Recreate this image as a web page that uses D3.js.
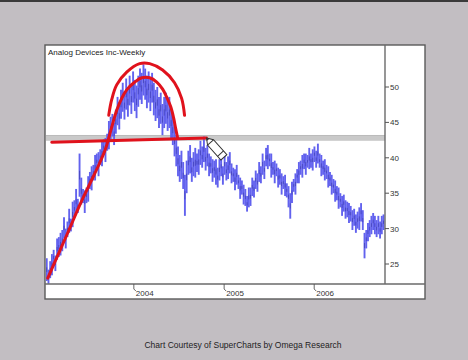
<!DOCTYPE html>
<html><head><meta charset="utf-8">
<script src="https://cdn.jsdelivr.net/npm/d3@7"></script>
<style>
html,body{margin:0;padding:0;background:#c2bec2;overflow:hidden}
svg{display:block}
text{font-family:"Liberation Sans",Arial,sans-serif}
</style></head>
<body>
<script>
const title = "Analog Devices Inc-Weekly";
const caption = "Chart Courtesy of SuperCharts by Omega Research";
const startDate = new Date(2003, 0, 10);
const endDate = new Date(2006, 9, 15);
const yTicks = [25, 30, 35, 40, 45, 50];
const xTicks = [new Date(2004,0,1), new Date(2005,0,1), new Date(2006,0,1)];
const xTickLabels = ["2004", "2005", "2006"];

const lows = [22.6,22.2,23.0,23.4,24.8,24.0,25.6,26.0,26.2,26.8,28.6,27.2,28.8,29.4,29.6,30.2,31.6,32.0,32.2,34.5,
33.4,33.6,32.2,33.6,33.8,35.6,35.4,36.8,36.8,38.4,37.4,39.0,38.8,40.4,39.4,41.0,41.2,42.4,43.0,41.8,
43.4,44.6,44.0,45.5,46.5,45.4,46.8,45.8,47.4,46.2,47.8,46.6,45.6,47.2,48.2,47.6,48.8,48.2,47.0,47.8,
46.6,47.8,46.0,45.2,45.6,44.2,44.8,43.2,44.2,44.8,43.8,44.2,42.8,41.8,40.2,38.8,37.4,36.6,37.0,35.6,
31.8,35.0,37.6,37.8,36.6,37.4,37.2,38.0,37.6,39.0,38.6,39.4,38.2,38.8,37.4,37.8,36.6,37.2,36.2,35.8,
36.8,37.4,36.2,37.6,36.8,37.0,37.8,36.4,36.6,35.4,36.2,35.6,34.2,34.8,33.4,33.2,32.4,33.0,33.2,34.6,
34.4,35.6,35.2,36.6,36.4,37.6,37.0,38.8,38.4,38.8,37.2,37.6,36.4,37.4,35.8,36.2,34.8,35.6,34.6,34.4,
33.0,31.4,33.6,35.2,34.8,36.4,36.4,37.6,37.2,38.4,37.6,38.6,38.4,38.6,38.2,39.4,38.6,39.2,38.6,37.4,
37.6,36.8,37.0,35.8,36.0,34.8,35.0,33.8,34.0,32.8,33.0,31.8,32.4,31.4,31.6,30.8,31.0,29.8,30.4,29.4,
30.0,29.8,31.0,29.8,25.8,27.2,28.2,28.8,29.2,29.8,29.2,28.8,29.2,28.6,29.2,29.8];
const highs = [25.8,24.2,25.4,26.4,27.0,26.2,28.6,28.8,29.4,29.8,31.6,30.0,31.0,32.8,31.4,33.8,34.0,35.6,34.2,40.6,
37.2,35.6,35.4,35.8,37.4,38.0,38.8,39.0,40.4,40.6,40.8,41.2,42.4,42.6,42.8,43.4,45.2,45.8,46.2,45.0,
46.8,48.6,47.8,49.6,50.6,49.4,51.2,50.0,51.6,50.4,52.2,51.0,50.2,51.6,52.6,52.0,53.2,52.6,51.6,52.2,
51.2,52.0,50.6,49.6,50.0,48.6,49.2,47.6,48.6,49.2,48.2,48.6,47.0,46.0,44.6,43.2,41.6,40.4,41.0,39.4,
37.6,39.6,41.0,41.8,40.0,40.8,41.4,40.6,41.2,42.4,41.6,43.0,41.4,41.8,40.6,40.2,39.8,39.6,39.8,38.6,
39.8,40.2,38.8,40.6,39.4,40.2,40.8,39.2,38.6,38.4,39.0,37.6,37.2,36.8,36.2,35.6,34.6,35.8,35.8,37.2,
36.8,38.2,37.8,39.4,38.8,40.6,39.6,41.4,41.8,40.6,40.6,39.4,39.6,39.2,38.6,38.4,37.8,37.4,37.6,36.4,
36.0,35.0,36.6,37.0,37.8,38.4,39.4,39.6,40.4,40.6,40.6,40.4,41.4,40.6,41.2,41.6,41.0,42.0,40.6,40.4,
39.6,39.8,39.0,38.8,38.0,37.6,37.0,36.8,36.0,35.8,35.0,34.6,34.8,34.0,33.8,33.6,33.2,32.6,32.8,32.0,
32.4,33.0,33.6,32.6,29.4,29.8,30.8,31.2,31.8,32.2,31.8,31.2,31.8,31.0,31.8,32.0];

// hand-drawn annotations, in (week index, price) terms
const trendArcWeeks = [0.6,7.6,13.4,19.1,24.9,30.7,34.2,37.6,40.5,43.4,46.3,51.0,55.0,59.6,63.7,67.1,69.4,71.8,73.5,74.6,75.8];
const trendArcPrices = [23.0,26.9,30.1,33.3,36.3,39.3,41.4,44.3,46.7,48.4,49.6,50.7,51.3,51.3,50.7,49.7,48.6,47.2,45.6,44.2,42.8];
const outerArcWeeks = [35.9,37.6,40.5,46.3,53.8,59.6,67.1,74.0,78.1,79.8];
const outerArcPrices = [46.0,48.2,50.3,52.1,53.3,53.3,52.4,50.6,48.4,46.0];
const levelWeeks = [2.9, 92.5];
const levelPrices = [42.2, 42.8];
const bandPrices = [43.15, 42.4];

const W = 468, H = 360;
const svg = d3.select("body").append("svg").attr("width", W).attr("height", H);

svg.append("rect").attr("x",0).attr("y",0).attr("width",W).attr("height",2).attr("fill","#3a3a3a");

const panel = {l:45, t:45, r:425, b:299};
const plot = {l:46, t:46, r:385, b:284};
svg.append("rect").attr("x",panel.l).attr("y",panel.t).attr("width",panel.r-panel.l).attr("height",panel.b-panel.t)
  .attr("fill","#ffffff").attr("stroke","#5a5a5a").attr("stroke-width",1.4);

const x = d3.scaleTime().domain([startDate, endDate]).range([plot.l, plot.r]);
const y = d3.scaleLinear().domain([25, 50]).range([264, 87]);
const xw = i => x(d3.timeHour.offset(startDate, Math.round(i*7*24) + 72));

const defs = svg.append("defs");
defs.append("clipPath").attr("id","clip").append("rect")
  .attr("x",plot.l).attr("y",plot.t).attr("width",plot.r-plot.l).attr("height",plot.b-plot.t);
const g = svg.append("g").attr("clip-path","url(#clip)");

// gray band
g.append("rect").attr("x",plot.l).attr("width",plot.r-plot.l)
  .attr("y",y(bandPrices[0])).attr("height",y(bandPrices[1])-y(bandPrices[0]))
  .attr("fill","#c9c9c9");
g.append("line").attr("x1",plot.l).attr("x2",plot.r).attr("y1",y(bandPrices[0])).attr("y2",y(bandPrices[0]))
  .attr("stroke","#b0b0b0").attr("stroke-width",0.8);

// bars
const bars = d3.range(lows.length);
g.selectAll("line.bar").data(bars).join("line").attr("class","bar")
  .attr("x1", i => xw(i)).attr("x2", i => xw(i))
  .attr("y1", i => y(lows[i])).attr("y2", i => y(highs[i]))
  .attr("stroke","#6262ee").attr("stroke-width",1.9);
g.selectAll("line.mid").data(bars).join("line").attr("class","mid")
  .attr("x1", i => xw(i)).attr("x2", i => xw(i))
  .attr("y1", i => y((lows[i]*0.6+highs[i]*0.4))).attr("y2", i => y((lows[i]*0.4+highs[i]*0.6)))
  .attr("stroke","#3a3aa8").attr("stroke-width",1.0).attr("opacity",0.6);

// red annotations
const red = "#e0121c";
const curve = d3.line().x(d => xw(d[0])).y(d => y(d[1])).curve(d3.curveCatmullRom);
g.append("path").datum(d3.zip(trendArcWeeks, trendArcPrices)).attr("d", curve)
  .attr("fill","none").attr("stroke",red).attr("stroke-width",3).attr("stroke-linecap","round");
g.append("path").datum(d3.zip(outerArcWeeks, outerArcPrices)).attr("d", curve)
  .attr("fill","none").attr("stroke",red).attr("stroke-width",3).attr("stroke-linecap","round");
g.append("path").datum(d3.zip(levelWeeks, levelPrices)).attr("d", d3.line().x(d => xw(d[0])).y(d => y(d[1])))
  .attr("fill","none").attr("stroke",red).attr("stroke-width",3).attr("stroke-linecap","round");

// pencil cursor at end of level line
const cx = xw(levelWeeks[1]), cy = y(levelPrices[1]);
const pen = svg.append("g").attr("transform",`translate(${cx},${cy}) rotate(48)`);
pen.append("path").attr("d","M0,0 L6,-4 L26,-4 L26,4 L6,4 Z")
  .attr("fill","#ffffff").attr("stroke","#333").attr("stroke-width",1);
pen.append("line").attr("x1",6).attr("x2",6).attr("y1",-4).attr("y2",4).attr("stroke","#333");
pen.append("line").attr("x1",21).attr("x2",21).attr("y1",-4).attr("y2",4).attr("stroke","#333");
pen.append("path").attr("d","M0,0 L2.5,-1.7 L2.5,1.7 Z").attr("fill","#333");

// axes lines
svg.append("line").attr("x1",plot.r).attr("x2",plot.r).attr("y1",panel.t).attr("y2",plot.b)
  .attr("stroke","#6a6a6a").attr("stroke-width",1.4);
svg.append("line").attr("x1",panel.l).attr("x2",panel.r).attr("y1",plot.b).attr("y2",plot.b)
  .attr("stroke","#6a6a6a").attr("stroke-width",1.4);

const yAxis = svg.append("g");
yTicks.forEach(v => {
  yAxis.append("line").attr("x1",plot.r).attr("x2",plot.r+4).attr("y1",y(v)).attr("y2",y(v)).attr("stroke","#555");
  yAxis.append("text").attr("x",plot.r+5).attr("y",y(v)+3).attr("font-size",8).attr("fill","#333").text(v);
});
xTicks.forEach((d,k) => {
  const xx = x(d);
  svg.append("path").attr("d",`M${xx},${plot.b} L${xx},${plot.b+5} L${xx+2},${plot.b+7}`)
    .attr("fill","none").attr("stroke","#555").attr("stroke-width",0.9);
  svg.append("text").attr("x",xx+2).attr("y",plot.b+12).attr("font-size",8).attr("fill","#333").text(xTickLabels[k]);
});

svg.append("text").attr("x",48).attr("y",55).attr("font-size",8).attr("fill","#222").text(title);
svg.append("text").attr("x",243).attr("y",348).attr("text-anchor","middle").attr("font-size",8.5)
  .attr("fill","#222").text(caption);
</script>
</body></html>
